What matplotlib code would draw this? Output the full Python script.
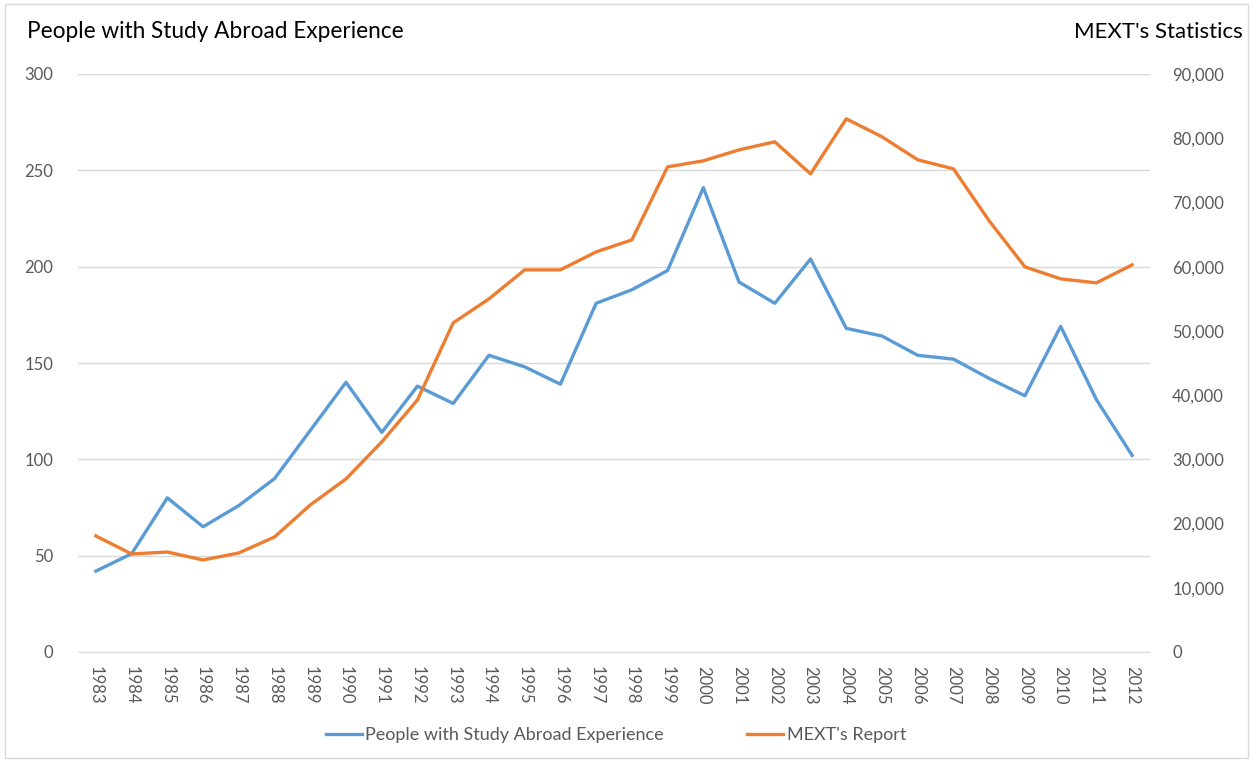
"""Study abroad experience vs MEXT statistics, dual-axis line chart."""
import matplotlib
matplotlib.use("Agg")
import matplotlib.pyplot as plt
from matplotlib.ticker import FuncFormatter

years = list(range(1983, 2013))

people = [42, 51, 80, 65, 76, 90, 115, 140, 114, 138,
          129, 154, 148, 139, 181, 188, 198, 241, 192, 181,
          204, 168, 164, 154, 152, 142, 133, 169, 131, 102]

mext = [18070, 15260, 15570, 14330, 15420, 17910, 22900, 26950, 32710, 39250,
        51250, 54980, 59500, 59500, 62300, 64170, 75540, 76480, 78190, 79440,
        74450, 83020, 80220, 76640, 75230, 67130, 59970, 58100, 57480, 60280]

left_title = "People with Study Abroad Experience"
right_title = "MEXT's Statistics"
people_label = "People with Study Abroad Experience"
mext_label = "MEXT's Report"

BLUE = "#5b9bd5"
ORANGE = "#ed7d31"
GRID = "#d9d9d9"
TICK = "#595959"

plt.rcParams["font.family"] = ["Lato", "DejaVu Sans"]

fig = plt.figure(figsize=(12.53, 7.6), dpi=100)
ax = fig.add_axes([78 / 1253, 1 - 652 / 760, (1150 - 78) / 1253, (652 - 74) / 760])
ax2 = ax.twinx()

ax.plot(years, people, color=BLUE, lw=2.4, solid_joinstyle="round",
        label=people_label, zorder=3)
ax2.plot(years, mext, color=ORANGE, lw=2.4, solid_joinstyle="round",
         label=mext_label, zorder=3)

ax.set_xlim(years[0] - 0.5, years[-1] + 0.5)
ax.set_ylim(0, 300)
ax2.set_ylim(0, 90000)
ax.set_yticks(range(0, 301, 50))
ax2.set_yticks(range(0, 90001, 10000))
ax2.yaxis.set_major_formatter(FuncFormatter(lambda v, _: f"{int(v):,}"))

ax.set_xticks(years)
ax.set_xticklabels([str(y) for y in years], rotation=270)

ax.grid(axis="y", color=GRID, lw=1)
ax.set_axisbelow(True)
for a in (ax, ax2):
    for s in a.spines.values():
        s.set_visible(False)
    a.tick_params(length=0, colors=TICK, labelsize=12)
ax.spines["bottom"].set_visible(True)
ax.spines["bottom"].set_color(GRID)
ax.tick_params(axis="y", pad=18)
ax2.tick_params(axis="y", pad=16)
ax.tick_params(axis="x", pad=10)

fig.text(27 / 1253, 1 - 32 / 760, left_title, fontsize=16.3, color="black",
         ha="left", va="center")
fig.text(1243 / 1253, 1 - 32 / 760, right_title, fontsize=16, color="black",
         ha="right", va="center")

handles = ax.get_lines() + ax2.get_lines()
fig.legend(handles, [h.get_label() for h in handles], loc="center",
           bbox_to_anchor=(616 / 1253, 1 - 735 / 760), ncol=2, frameon=False,
           fontsize=13, labelcolor=TICK, handlelength=2.0, handletextpad=0.2,
           columnspacing=4.6)

# light outer border like the chart frame
fig.patches.append(plt.Rectangle((5 / 1253, 0.002), 1 - 10 / 1253, 1 - 6 / 760,
                                 transform=fig.transFigure, fill=False,
                                 edgecolor="#d9d9d9", lw=1))

fig.savefig("out.png", dpi=100)
